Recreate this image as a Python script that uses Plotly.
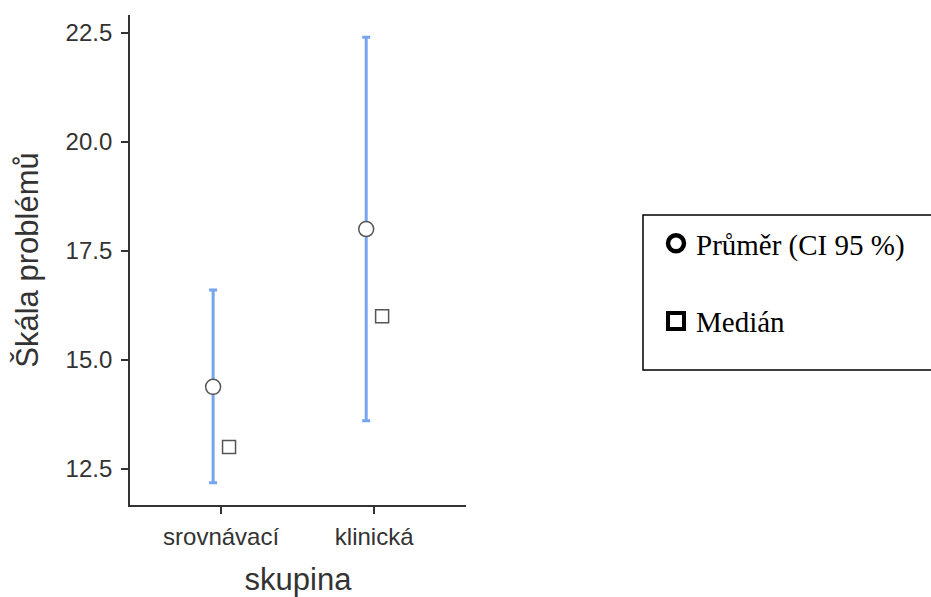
import plotly.graph_objects as go

# Group summary: mean with 95 % CI and median of the problem scale
groups = ["srovnávací", "klinická"]
means = [14.38, 18.0]
ci_low = [12.18, 13.6]
ci_high = [16.6, 22.4]
medians = [13.0, 16.0]

y_ticks = [12.5, 15.0, 17.5, 20.0, 22.5]
y_ticklabels = ["12.5", "15.0", "17.5", "20.0", "22.5"]

legend_labels = ["Průměr (CI 95 %)", "Medián"]

dodge = 0.052
pos = list(range(len(groups)))
x_mean = [p - dodge for p in pos]
x_median = [p + dodge for p in pos]

ci_blue = "#77a4ee"
mark_line = "#555555"
axis_col = "#333333"

fig = go.Figure()

# Mean with confidence interval
fig.add_trace(go.Scatter(
    x=x_mean, y=means, mode="markers",
    error_y=dict(type="data", symmetric=False,
                 array=[h - m for h, m in zip(ci_high, means)],
                 arrayminus=[m - l for m, l in zip(means, ci_low)],
                 color=ci_blue, thickness=3, width=4),
    marker=dict(symbol="circle", size=15, color="white",
                line=dict(color=mark_line, width=1.5)),
    showlegend=False, hoverinfo="skip",
))

# Medians
fig.add_trace(go.Scatter(
    x=x_median, y=medians, mode="markers",
    marker=dict(symbol="square", size=13, color="white",
                line=dict(color=mark_line, width=1.5)),
    showlegend=False, hoverinfo="skip",
))

# Legend entries
fig.add_trace(go.Scatter(
    x=[None], y=[None], mode="markers", name=legend_labels[0],
    legendgroup="a",
    marker=dict(symbol="circle-open", size=16, color="black",
                line=dict(width=4.5)),
))
fig.add_trace(go.Scatter(
    x=[None], y=[None], mode="markers", name=legend_labels[1],
    legendgroup="b",
    marker=dict(symbol="square-open", size=16, color="black",
                line=dict(width=4)),
))

W, H = 931, 597
L, R, T, B = 130, 465, 15, 92
pw, ph = W - L - R, H - T - B


def px_x(px):
    return (px - L) / pw


def px_y(py):
    return (H - B - py) / ph


fig.update_layout(
    width=W, height=H,
    margin=dict(l=L, r=R, t=T, b=B, autoexpand=False),
    paper_bgcolor="white", plot_bgcolor="white",
    font=dict(family="Liberation Sans, Arial, sans-serif", color=axis_col),
    xaxis=dict(
        range=[-0.595, 1.6],
        tickmode="array", tickvals=pos, ticktext=groups,
        showgrid=False, zeroline=False,
        showline=True, linecolor=axis_col, linewidth=1.8,
        ticks="outside", ticklen=7, tickwidth=1.8, tickcolor=axis_col,
        tickfont=dict(size=24, color=axis_col),
        ticklabelstandoff=2,
        title=dict(text="skupina", font=dict(size=31, color=axis_col), standoff=20),
    ),
    yaxis=dict(
        range=[11.67, 22.91],
        tickmode="array", tickvals=y_ticks, ticktext=y_ticklabels,
        showgrid=False, zeroline=False,
        showline=True, linecolor=axis_col, linewidth=1.8,
        ticks="outside", ticklen=7, tickwidth=1.8, tickcolor=axis_col,
        tickfont=dict(size=24, color=axis_col),
        ticklabelstandoff=4,
        title=dict(text="Škála problémů", font=dict(size=31, color=axis_col), standoff=18),
    ),
    legend=dict(
        x=px_x(656), y=px_y(218), xanchor="left", yanchor="top",
        xref="paper", yref="paper",
        traceorder="grouped", tracegroupgap=37,
        bgcolor="rgba(0,0,0,0)", borderwidth=0,
        font=dict(family="Liberation Serif, Times New Roman, serif", size=29, color="black"),
    ),
    shapes=[dict(
        type="rect", xref="paper", yref="paper",
        x0=px_x(643), x1=px_x(940), y0=px_y(370), y1=px_y(215),
        line=dict(color="black", width=1.5), fillcolor="rgba(0,0,0,0)", layer="below",
    )],
)

fig.write_html("out.html")
